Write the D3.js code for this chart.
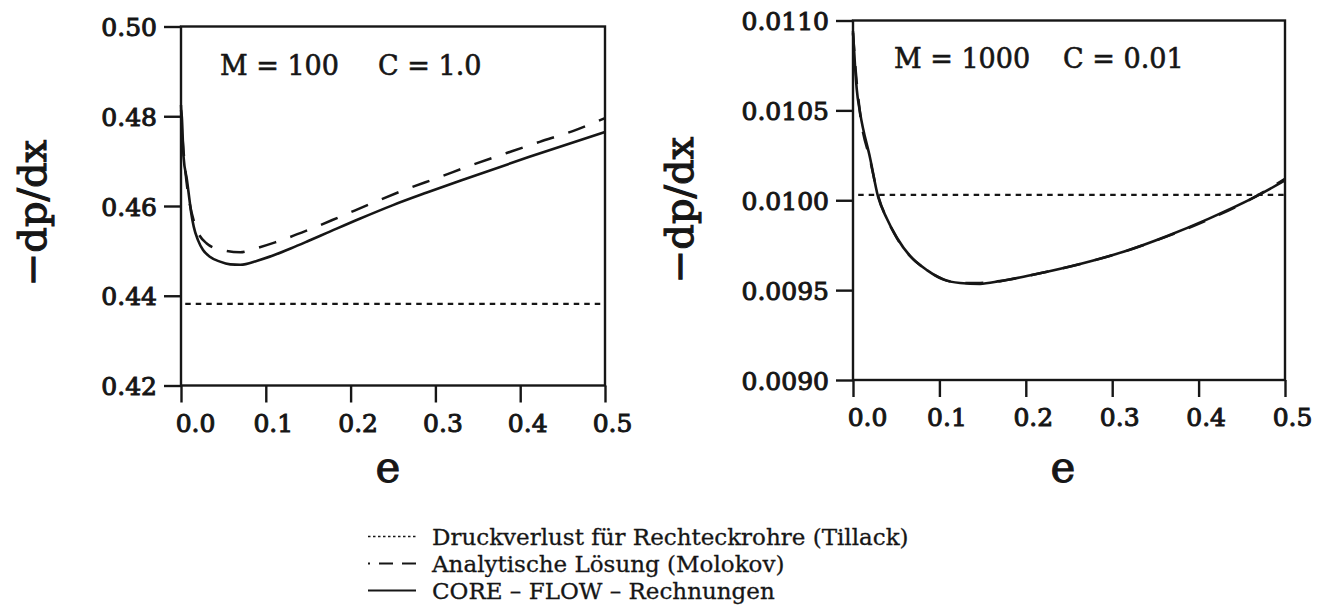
<!DOCTYPE html>
<html>
<head>
<meta charset="utf-8">
<script src="https://cdn.jsdelivr.net/npm/d3@7"></script>
<style>
  html, body { margin: 0; padding: 0; background: #fff; }
  svg { display: block; }
  text { font-family: "DejaVu Serif", "Liberation Serif", serif; fill: #161616; }
</style>
</head>
<body>
<svg id="chart" width="1321" height="609"></svg>
<script>
// ---- data ----------------------------------------------------------------
const eTicks = [0, 0.1, 0.2, 0.3, 0.4, 0.5];
const eTickLabels = ["0.0", "0.1", "0.2", "0.3", "0.4", "0.5"];

// panel 1: M = 100, C = 1.0
const leftYTicks = [0.42, 0.44, 0.46, 0.48, 0.50];
const leftYTickLabels = ["0.42", "0.44", "0.46", "0.48", "0.50"];
const leftTillackE = [0.005, 0.5];
const leftTillackV = [0.4382, 0.4382];
const leftMolokovE = [0, 0.002, 0.0165, 0.030, 0.048, 0.070, 0.087, 0.111, 0.148, 0.1875, 0.226, 0.2665, 0.303, 0.344, 0.384, 0.423, 0.462, 0.500];
const leftMolokovV = [0.4825, 0.4747, 0.4558, 0.4517, 0.4502, 0.4497, 0.4505, 0.4519, 0.4545, 0.4576, 0.4607, 0.4638, 0.4663, 0.4692, 0.4718, 0.4743, 0.4767, 0.4796];
const leftCoreE = [0, 0.001, 0.003, 0.007, 0.010, 0.012, 0.015, 0.020, 0.026, 0.034, 0.046, 0.058, 0.070, 0.090, 0.110, 0.130, 0.150, 0.172, 0.210, 0.250, 0.290, 0.330, 0.410, 0.500];
const leftCoreV = [0.4814, 0.4798, 0.4710, 0.4658, 0.4614, 0.4585, 0.4554, 0.4524, 0.4502, 0.4487, 0.4476, 0.4470, 0.4469, 0.4478, 0.4491, 0.4506, 0.4522, 0.4540, 0.4571, 0.4602, 0.4630, 0.4657, 0.4709, 0.4765];

// panel 2: M = 1000, C = 0.01
const rightYTicks = [0.0090, 0.0095, 0.0100, 0.0105, 0.0110];
const rightYTickLabels = ["0.0090", "0.0095", "0.0100", "0.0105", "0.0110"];
const rightTillackE = [0.006, 0.5];
const rightTillackV = [0.01003, 0.01003];
const rightMolokovE = [0, 0.003, 0.008, 0.020, 0.030, 0.040, 0.052, 0.066, 0.086, 0.105, 0.125, 0.147, 0.170, 0.195, 0.215, 0.265, 0.315, 0.365, 0.415, 0.462, 0.500];
const rightMolokovV = [0.01093, 0.01073, 0.01049, 0.01022, 0.01001, 0.00989, 0.00978, 0.00969, 0.00961, 0.00956, 0.00954, 0.00954, 0.00955, 0.009572, 0.009592, 0.009648, 0.009716, 0.009802, 0.009900, 0.01001, 0.01012];
const rightCoreE = [0, 0.0023, 0.0043, 0.0081, 0.020, 0.029, 0.039, 0.051, 0.066, 0.086, 0.104, 0.124, 0.147, 0.170, 0.193, 0.215, 0.265, 0.314, 0.363, 0.412, 0.462, 0.500];
const rightCoreV = [0.01094, 0.01075, 0.01062, 0.01049, 0.01023, 0.01002, 0.00990, 0.00979, 0.00969, 0.00961, 0.00956, 0.00954, 0.009535, 0.00955, 0.00957, 0.009592, 0.009648, 0.009715, 0.00980, 0.009898, 0.01001, 0.01011];

const legendLabels = [
  "Druckverlust für Rechteckrohre (Tillack)",
  "Analytische Lösung (Molokov)",
  "CORE – FLOW – Rechnungen"
];

// ---- drawing -------------------------------------------------------------
const svg = d3.select("#chart");
const INK = "#161616";
const STYLES = {
  tillack: { width: 2.2, dash: "5.5,5" },
  molokov: { width: 2.5, dash: "18,15" },
  core:    { width: 2.6, dash: null }
};

function zip(es, vs) { return es.map((e, i) => ({ e, v: vs[i] })); }

function drawPanel(p) {
  const x = d3.scaleLinear().domain([0, 0.5]).range([p.x0, p.x1]);
  const y = d3.scaleLinear().domain(p.yDomain).range([p.y1, p.y0]);
  const g = svg.append("g");

  // frame
  g.append("rect")
    .attr("x", p.x0).attr("y", p.y0)
    .attr("width", p.x1 - p.x0).attr("height", p.y1 - p.y0)
    .attr("fill", "none").attr("stroke", INK).attr("stroke-width", 2.4);

  // y axis
  const ya = g.append("g").attr("transform", `translate(${p.x0},0)`)
    .call(d3.axisLeft(y).tickValues(p.yTicks).tickSize(17).tickPadding(7)
      .tickFormat((d, i) => p.yTickLabels[i]));
  ya.select(".domain").remove();
  ya.selectAll(".tick line").attr("stroke", INK).attr("stroke-width", 2.4);
  ya.selectAll(".tick text")
    .attr("font-family", "DejaVu Serif").attr("font-size", 25)
    .attr("fill", INK).attr("stroke", INK).attr("stroke-width", 1.0)
    .attr("dy", "0.36em");

  // x axis
  const xa = g.append("g").attr("transform", `translate(0,${p.y1})`)
    .call(d3.axisBottom(x).tickValues(eTicks).tickSize(17)
      .tickFormat((d, i) => eTickLabels[i]));
  xa.select(".domain").remove();
  xa.selectAll(".tick line").attr("stroke", INK).attr("stroke-width", 2.4);
  xa.selectAll(".tick text")
    .attr("font-family", "DejaVu Serif").attr("font-size", 25)
    .attr("fill", INK).attr("stroke", INK).attr("stroke-width", 1.0)
    .attr("y", 46).attr("dy", 0)
    .attr("x", (d, i) => (i === 0 ? 14 : 7));

  // axis titles
  g.append("text")
    .attr("transform", `translate(${p.yLabelX},${p.yLabelY}) rotate(-90)`)
    .attr("text-anchor", "middle").attr("font-size", 40)
    .attr("stroke", INK).attr("stroke-width", 1.1)
    .text("−dp/dx");
  g.append("text")
    .attr("x", p.xLabelX).attr("y", p.xLabelY)
    .attr("text-anchor", "middle").attr("font-size", 42)
    .attr("stroke", INK).attr("stroke-width", 1.0)
    .text("e");

  // parameter annotation
  p.notes.forEach(n => {
    g.append("text").attr("x", n.x).attr("y", n.y)
      .attr("font-size", 27).attr("stroke", INK).attr("stroke-width", 0.6)
      .text(n.text);
  });

  const line = d3.line().x(d => x(d.e)).y(d => y(d.v)).curve(d3.curveMonotoneX);
  const series = [
    { data: zip(p.tillackE, p.tillackV), st: STYLES.tillack },
    { data: zip(p.coreE, p.coreV), st: STYLES.core },
    { data: zip(p.molokovE, p.molokovV), st: STYLES.molokov }
  ];
  series.forEach(s => {
    g.append("path").datum(s.data)
      .attr("d", line)
      .attr("fill", "none").attr("stroke", INK)
      .attr("stroke-width", s.st.width)
      .attr("stroke-dasharray", s.st.dash)
      .attr("stroke-linejoin", "round");
  });
}

drawPanel({
  x0: 181, x1: 605, y0: 26.5, y1: 385.5,
  yDomain: [0.42, 0.50], yTicks: leftYTicks, yTickLabels: leftYTickLabels,
  yLabelX: 46, yLabelY: 213, xLabelX: 388, xLabelY: 482,
  notes: [{ x: 220, y: 75, text: "M = 100" }, { x: 378, y: 75, text: "C = 1.0" }],
  tillackE: leftTillackE, tillackV: leftTillackV,
  molokovE: leftMolokovE, molokovV: leftMolokovV,
  coreE: leftCoreE, coreV: leftCoreV
});

drawPanel({
  x0: 853, x1: 1285, y0: 20.5, y1: 380,
  yDomain: [0.0090, 0.0110], yTicks: rightYTicks, yTickLabels: rightYTickLabels,
  yLabelX: 693, yLabelY: 210, xLabelX: 1063, xLabelY: 482,
  notes: [{ x: 894, y: 68, text: "M = 1000" }, { x: 1063, y: 68, text: "C = 0.01" }],
  tillackE: rightTillackE, tillackV: rightTillackV,
  molokovE: rightMolokovE, molokovV: rightMolokovV,
  coreE: rightCoreE, coreV: rightCoreV
});

// ---- legend --------------------------------------------------------------
const legend = svg.append("g");
const legendSwatches = [
  { dash: "2.5,2.5", width: 1.6 },
  { dash: "2,9,14,9,14,200", width: 2.2 },
  { dash: null, width: 2.2 }
];
legendLabels.forEach((label, i) => {
  const baseY = 545 + i * 27;
  legend.append("line")
    .attr("x1", 368).attr("x2", 416)
    .attr("y1", baseY - 8.5).attr("y2", baseY - 8.5)
    .attr("stroke", INK).attr("stroke-width", legendSwatches[i].width)
    .attr("stroke-dasharray", legendSwatches[i].dash);
  legend.append("text")
    .attr("x", 432).attr("y", baseY)
    .attr("font-size", 23).attr("stroke", INK).attr("stroke-width", 0.3)
    .text(label);
});
</script>
</body>
</html>
